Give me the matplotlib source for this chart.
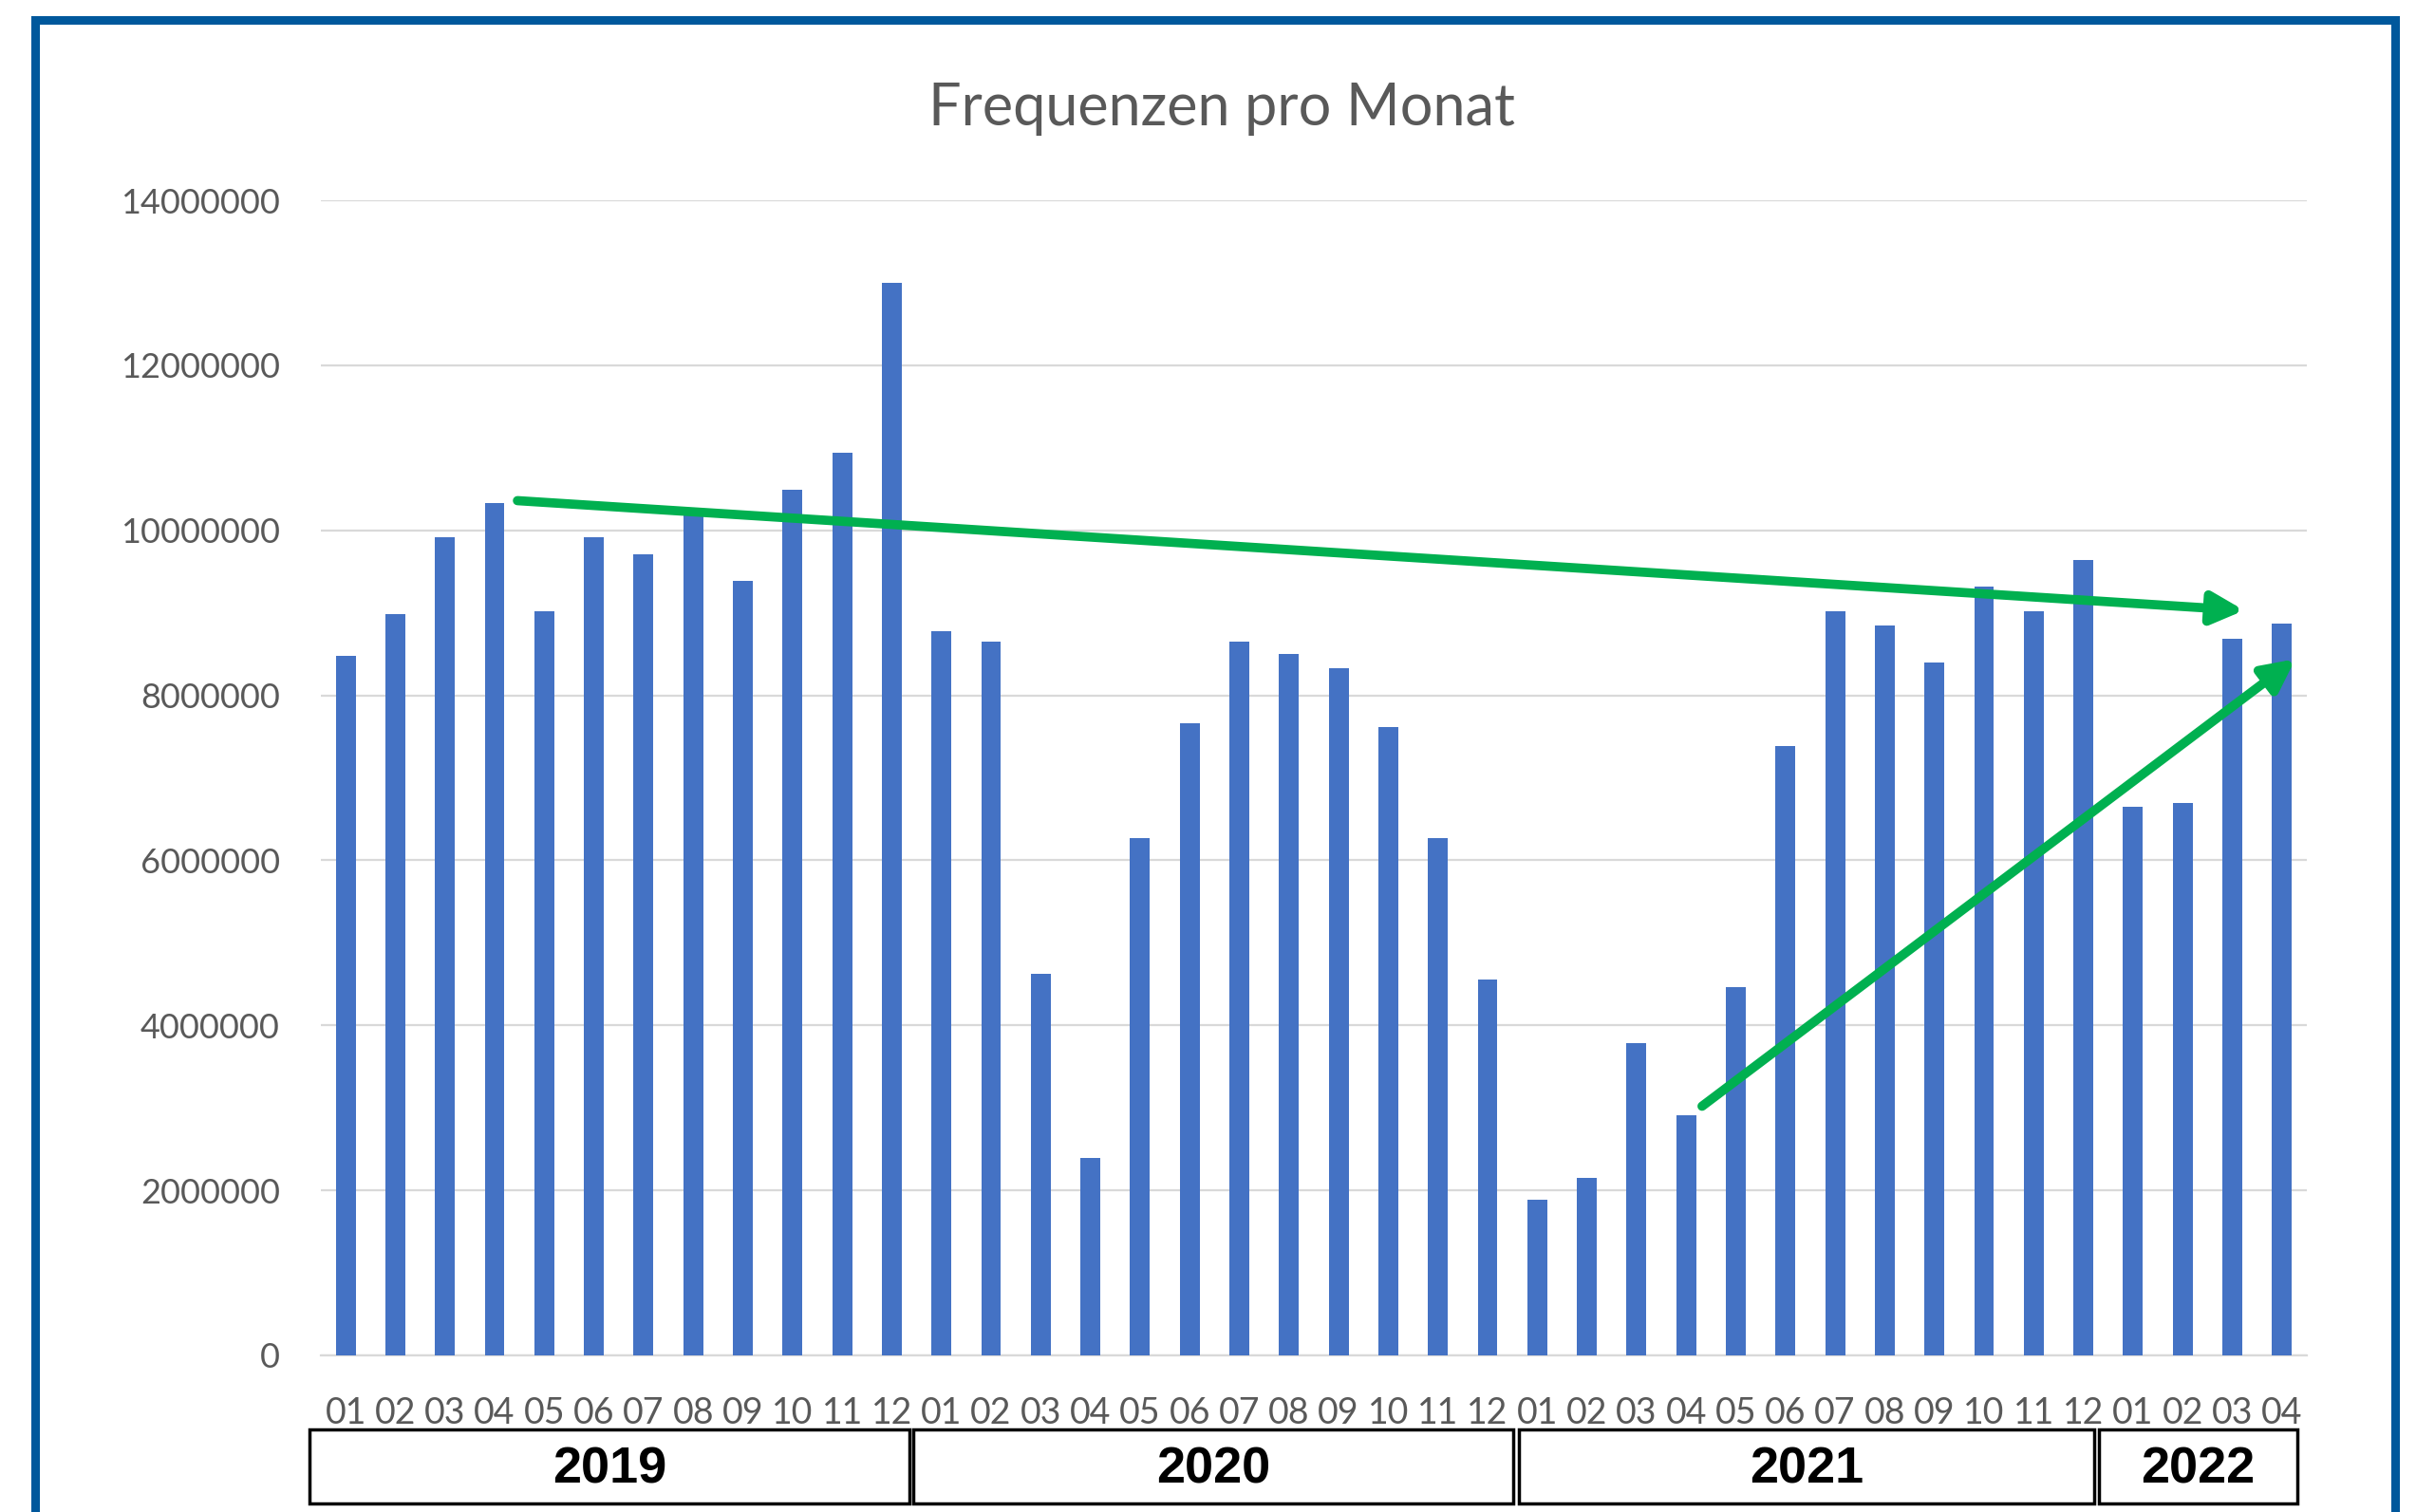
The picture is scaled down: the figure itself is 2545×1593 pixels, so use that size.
import matplotlib
matplotlib.use("Agg")
import matplotlib.pyplot as plt
from matplotlib import font_manager
from matplotlib.lines import Line2D
from matplotlib.patches import Rectangle
from matplotlib.transforms import blended_transform_factory

# Daten (Frequenzen pro Monat)
jahre = ["2019", "2020", "2021", "2022"]
monate_pro_jahr = [12, 12, 12, 4]
werte_2019 = [8480000, 8980000, 9920000, 10330000, 9020000, 9920000,
              9710000, 10230000, 9390000, 10490000, 10940000, 13000000]
werte_2020 = [8780000, 8650000, 4630000, 2390000, 6270000, 7660000,
              8650000, 8500000, 8330000, 7620000, 6270000, 4560000]
werte_2021 = [1890000, 2150000, 3790000, 2910000, 4460000, 7380000,
              9020000, 8850000, 8400000, 9320000, 9020000, 9640000]
werte_2022 = [6650000, 6690000, 8680000, 8870000]
y_ticks = [0, 2000000, 4000000, 6000000, 8000000, 10000000, 12000000, 14000000]

werte = werte_2019 + werte_2020 + werte_2021 + werte_2022
monate = [f"{m:02d}" for n in monate_pro_jahr for m in range(1, n + 1)]

# Schriften
verfuegbar = {f.name for f in font_manager.fontManager.ttflist}
schrift = "Lato" if "Lato" in verfuegbar else "DejaVu Sans"
schrift_jahr = "Liberation Sans" if "Liberation Sans" in verfuegbar else "DejaVu Sans"
plt.rcParams["font.family"] = [schrift, "DejaVu Sans"]

grau = "#595959"
blau = "#4472C4"
gruen = "#00B050"

fig = plt.figure(figsize=(25.45, 15.93), dpi=100)
ax = fig.add_axes([0.1328, 0.1036, 0.8220, 0.7639])

x = list(range(len(werte)))
ax.bar(x, werte, width=0.4, color=blau, zorder=3)

ax.set_xlim(-0.5, len(werte) - 0.5)
ax.set_ylim(0, 14000000)
ax.set_yticks(y_ticks)
ax.set_yticklabels([str(v) for v in y_ticks])
ax.set_xticks(x)
ax.set_xticklabels(monate)
ax.tick_params(axis="y", length=0, pad=31, labelsize=26, labelcolor=grau)
ax.tick_params(axis="x", length=0, pad=31, labelsize=27, labelcolor=grau)

ax.yaxis.grid(True, color="#D9D9D9", linewidth=1.6)
ax.set_axisbelow(True)
for s in ["top", "right", "left"]:
    ax.spines[s].set_visible(False)
ax.spines["bottom"].set_color("#D9D9D9")
ax.spines["bottom"].set_linewidth(1.6)

# Jahres-Kaesten unter der Achse
box_grenzen = [(-0.73, 11.35), (11.43, 23.52), (23.63, 35.22), (35.31, 39.30)]
trans = blended_transform_factory(ax.transData, ax.transAxes)
for jahr, (x0, x1) in zip(jahre, box_grenzen):
    ax.add_patch(Rectangle((x0, -0.1282), x1 - x0, 0.0641, transform=trans,
                           fill=False, edgecolor="black", linewidth=2.5,
                           clip_on=False))
    ax.text((x0 + x1) / 2, -0.0990, jahr, transform=trans, ha="center",
            va="center", fontsize=39, fontweight="heavy", color="black",
            family=[schrift_jahr, "DejaVu Sans"])

# Trendpfeile
pfeil = dict(arrowstyle="-|>,head_length=1.0,head_width=0.5", color=gruen,
             lw=7, mutation_scale=20, shrinkA=0, shrinkB=0)
ax.annotate("", xy=(38.24, 9030000), xytext=(3.46, 10360000),
            arrowprops=pfeil, zorder=5)
ax.annotate("", xy=(39.27, 8440000), xytext=(27.32, 3020000),
            arrowprops=pfeil, zorder=5)

fig.text(0.5057, 0.9284, "Frequenzen pro Monat", ha="center", va="center",
         fontsize=44, color=grau)

# blauer Rahmen
fig.add_artist(Line2D([0.01454, 0.01454, 0.9914, 0.9914],
                      [-0.02, 0.9868, 0.9868, -0.02],
                      transform=fig.transFigure, color="#00589C",
                      linewidth=6.5, solid_joinstyle="miter"))

fig.savefig("out.png", dpi=100)
